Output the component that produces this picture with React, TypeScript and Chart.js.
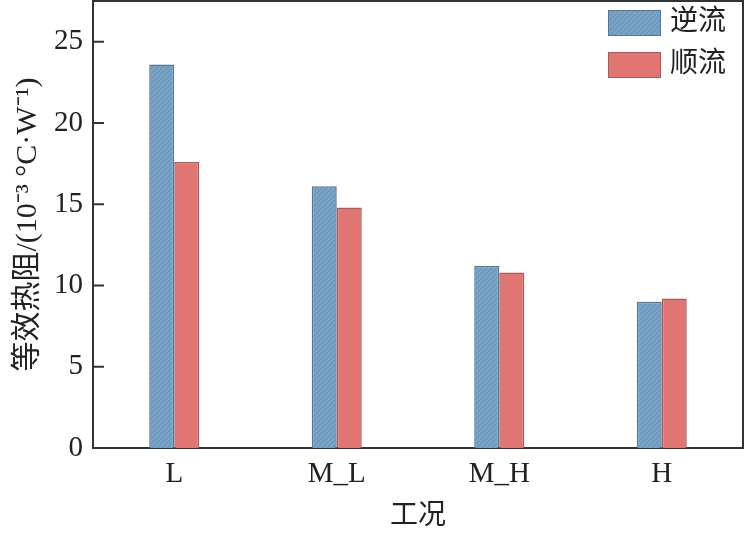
import { useEffect, useRef } from 'react';
import { Chart, registerables } from 'chart.js';

Chart.register(...registerables);

const categories = ['L', 'M_L', 'M_H', 'H'];
const seriesNames = ['逆流', '顺流'];
const counterFlow = [23.6, 16.1, 11.2, 9.0];
const parallelFlow = [17.6, 14.8, 10.8, 9.2];
const yTicks = [0, 5, 10, 15, 20, 25];

const FONT = "'Liberation Serif', 'Noto Sans CJK SC', serif";
const AXIS = '#333333';

function makeHatch(base: string, line: string) {
  const c = document.createElement('canvas');
  c.width = 5;
  c.height = 5;
  const g = c.getContext('2d')!;
  g.fillStyle = base;
  g.fillRect(0, 0, 5, 5);
  g.strokeStyle = line;
  g.lineWidth = 0.8;
  g.beginPath();
  g.moveTo(0, 5); g.lineTo(5, 0);
  g.moveTo(-1, 1); g.lineTo(1, -1);
  g.moveTo(4, 6); g.lineTo(6, 4);
  g.stroke();
  return g.createPattern(c, 'repeat')!;
}

// frame, inward y ticks and the legend inside the plot
const framePlugin = {
  id: 'frame',
  afterDraw(chart: any) {
    const { ctx, chartArea } = chart;
    const { left, right, top, bottom } = chartArea;
    ctx.save();
    ctx.strokeStyle = AXIS;
    ctx.lineWidth = 2;
    ctx.beginPath();
    ctx.moveTo(left, top);
    ctx.lineTo(right, top);
    ctx.lineTo(right, bottom);
    ctx.stroke();

    const y = chart.scales.y;
    ctx.beginPath();
    yTicks.forEach(v => {
      const py = y.getPixelForValue(v);
      ctx.moveTo(left, py);
      ctx.lineTo(left + 11, py);
    });
    ctx.stroke();

    // legend
    const boxX = right - 135;
    chart.data.datasets.forEach((ds: any, i: number) => {
      const by = top + 9 + i * 42;
      ctx.fillStyle = ds.backgroundColor;
      ctx.fillRect(boxX, by, 53, 26);
      ctx.strokeStyle = ds.borderColor;
      ctx.lineWidth = 1;
      ctx.strokeRect(boxX + 0.5, by + 0.5, 52, 25);
      ctx.fillStyle = '#222';
      ctx.font = `28px ${FONT}`;
      ctx.textBaseline = 'middle';
      ctx.textAlign = 'left';
      ctx.fillText(ds.label, boxX + 62, by + 13);
    });
    ctx.restore();
  }
};

export default function App() {
  const canvasRef = useRef<HTMLCanvasElement | null>(null);

  useEffect(() => {
    document.body.style.margin = '0';
    if (!canvasRef.current) return;

    const blueHatch = makeHatch('#77a3c7', '#6089ae');

    const chart = new Chart(canvasRef.current, {
      type: 'bar',
      data: {
        labels: categories,
        datasets: [
          {
            label: seriesNames[0],
            data: counterFlow,
            backgroundColor: blueHatch as any,
            borderColor: '#557590',
            borderWidth: 1.5
          },
          {
            label: seriesNames[1],
            data: parallelFlow,
            backgroundColor: '#e07571',
            borderColor: '#a95c5a',
            borderWidth: 1.5
          }
        ]
      },
      options: {
        animation: false,
        responsive: true,
        maintainAspectRatio: false,
        layout: { padding: { top: 1, right: 3, left: 0, bottom: 0 } },
        plugins: {
          legend: { display: false },
          tooltip: { enabled: false }
        },
        datasets: {
          bar: { categoryPercentage: 0.308, barPercentage: 1 }
        },
        scales: {
          x: {
            grid: { display: false, drawTicks: false },
            border: { display: true, color: AXIS, width: 2 },
            ticks: {
              padding: 9,
              color: '#222',
              font: { family: FONT, size: 29 }
            },
            title: {
              display: true,
              text: '工况',
              color: '#222',
              font: { family: FONT, size: 28 },
              padding: { top: 0, bottom: 3 }
            },
            afterFit: (s: any) => {
              s.height = 88;
              s.paddingLeft = 0;
              s.paddingRight = 0;
            }
          },
          y: {
            min: 0,
            max: 27.5,
            grid: { display: false, drawTicks: false },
            border: { display: true, color: AXIS, width: 2 },
            afterBuildTicks: (s: any) => { s.ticks = yTicks.map(v => ({ value: v })); },
            ticks: {
              padding: 10,
              color: '#222',
              font: { family: FONT, size: 29 }
            },
            title: {
              display: true,
              text: '等效热阻/(10⁻³ °C·W⁻¹)',
              color: '#222',
              font: { family: FONT, size: 30 },
              padding: { top: 10, bottom: 0 }
            },
            afterFit: (s: any) => {
              s.width = 93;
              s.paddingTop = 0;
              s.paddingBottom = 0;
            }
          }
        }
      },
      plugins: [framePlugin]
    });

    return () => chart.destroy();
  }, []);

  return (
    <div style={{ width: 746, height: 536, position: 'relative' }}>
      <canvas ref={canvasRef}></canvas>
    </div>
  );
}
